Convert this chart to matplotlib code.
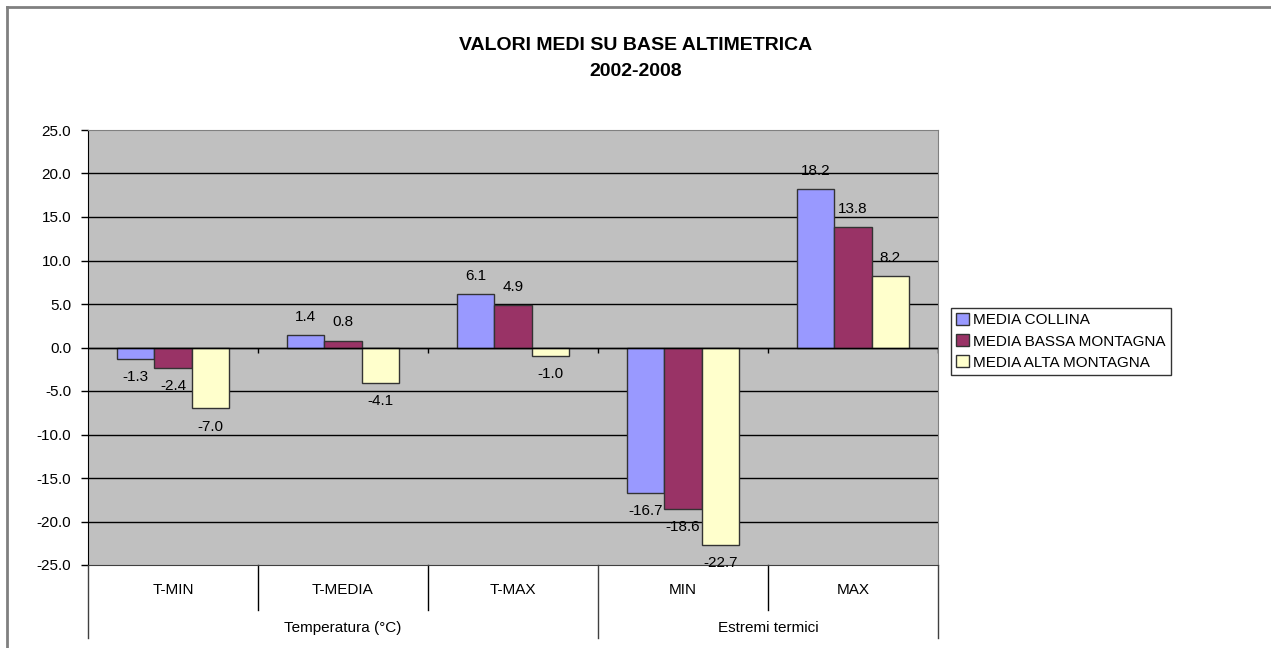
"""
Valori medi su base altimetrica 2002-2008, grouped bars in Excel style.
"""
import matplotlib
matplotlib.use('Agg')
import matplotlib.pyplot as plt
from matplotlib.lines import Line2D
import numpy as np

plt.rcParams['font.family'] = ['Liberation Sans', 'DejaVu Sans']

# Data
categories = ['T-MIN', 'T-MEDIA', 'T-MAX', 'MIN', 'MAX']
groups = ['Temperatura (°C)', 'Estremi termici']
group_spans = [(0, 3), (3, 5)]  # category index ranges for each group
series_names = ['MEDIA COLLINA', 'MEDIA BASSA MONTAGNA', 'MEDIA ALTA MONTAGNA']
collina = [-1.3, 1.4, 6.1, -16.7, 18.2]
bassa = [-2.4, 0.8, 4.9, -18.6, 13.8]
alta = [-7.0, -4.1, -1.0, -22.7, 8.2]
series = [collina, bassa, alta]
colors = ['#9999FF', '#993366', '#FFFFCC']
yticks = np.arange(-25, 26, 5)

W, H = 1271, 648
fig = plt.figure(figsize=(W / 100, H / 100), dpi=100)
fig.patch.set_facecolor('white')

# plot area in pixels
left, right, top, bottom = 88, 938, 130, 565
ax = fig.add_axes([left / W, 1 - bottom / H, (right - left) / W, (bottom - top) / H])
ax.set_facecolor('#C0C0C0')

x = np.arange(len(categories))
bw = 0.22
for i, (vals, col, name) in enumerate(zip(series, colors, series_names)):
    pos = x + (i - 1) * bw
    ax.bar(pos, vals, width=bw, color=col, edgecolor='#333333', linewidth=1,
           label=name, zorder=3)
    for px, v in zip(pos, vals):
        off = 8 if v >= 0 else -8
        ax.annotate(f'{v:.1f}', (px, v), xytext=(0, off), textcoords='offset points',
                    ha='center', va='bottom' if v >= 0 else 'top',
                    fontsize=11, zorder=5, annotation_clip=False)

ax.set_xlim(-0.5, len(categories) - 0.5)
ax.set_ylim(-25, 25)
ax.set_yticks(yticks)
ax.set_yticklabels([f'{t:.1f}' for t in yticks], fontsize=11)
ax.tick_params(axis='y', direction='out', length=5, width=1, pad=7, color='black')
ax.set_xticks([])

# gridlines and zero axis
for t in yticks[1:-1]:
    ax.axhline(t, color='black', linewidth=1, zorder=1)
ax.axhline(0, color='black', linewidth=1, zorder=4)
ax.vlines(np.arange(0.5, len(categories)), -0.6, 0, color='black', linewidth=1, zorder=4)

for s in ['top', 'right']:
    ax.spines[s].set_color('#808080')
ax.spines['left'].set_color('black')
ax.spines['bottom'].set_color('#404040')

# category axis table below the plot
xt = ax.get_xaxis_transform()
ph = bottom - top
row1 = -45 / ph
row2 = -73 / ph
for i, c in enumerate(categories):
    ax.text(i, -25 / ph, c, transform=xt, ha='center', va='center', fontsize=11)
for g, (a, b) in zip(groups, group_spans):
    ax.text((a + b - 1) / 2, -63 / ph, g, transform=xt, ha='center', va='center', fontsize=11)
inner = [s + 0.5 for s in range(len(categories) - 1) if s + 1 not in [sp[0] for sp in group_spans]]
outer = [sp[0] - 0.5 for sp in group_spans] + [group_spans[-1][1] - 0.5]
for xv in inner:
    ax.add_line(Line2D([xv, xv], [0, row1], transform=xt, color='black', linewidth=1, clip_on=False))
for xv in outer:
    ax.add_line(Line2D([xv, xv], [0, row2], transform=xt, color='#404040', linewidth=1, clip_on=False))

# title
fig.text(0.5, 1 - 45 / H, 'VALORI MEDI SU BASE ALTIMETRICA', ha='center', va='center',
         fontsize=14, fontweight='bold')
fig.text(0.5, 1 - 72 / H, '2002-2008', ha='center', va='center', fontsize=14, fontweight='bold')

# legend
leg = fig.legend(loc='upper left', bbox_to_anchor=(951 / W, 1 - 308 / H), fontsize=11,
                 frameon=True, fancybox=False, edgecolor='black', handlelength=0.8,
                 handleheight=0.8, handletextpad=0.3, borderpad=0.35, labelspacing=0.45,
                 borderaxespad=0)
leg.get_frame().set_linewidth(1)

# outer chart frame (top and left visible)
fig.add_artist(Line2D([7 / W, 1], [1 - 7 / H, 1 - 7 / H], transform=fig.transFigure,
                      color='#808080', linewidth=2))
fig.add_artist(Line2D([7 / W, 7 / W], [0, 1 - 7 / H], transform=fig.transFigure,
                      color='#808080', linewidth=2))

fig.savefig('out.png', dpi=100)
